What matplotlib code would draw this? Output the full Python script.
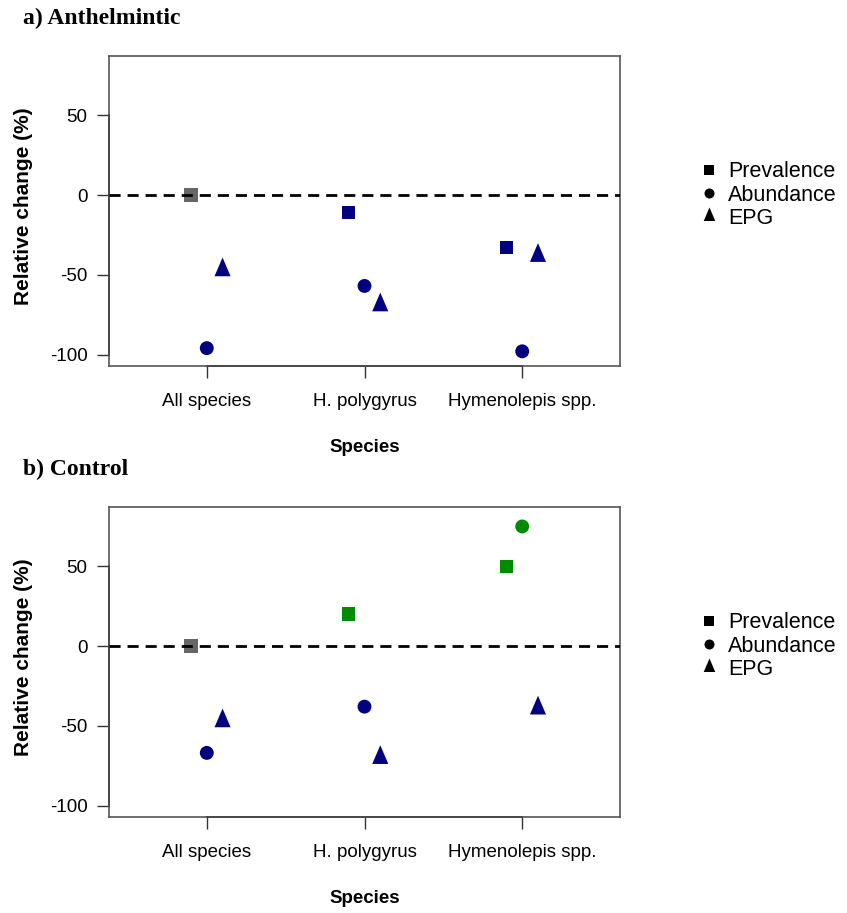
import numpy as np
import matplotlib
matplotlib.use('Agg')
import matplotlib.pyplot as plt
from matplotlib.lines import Line2D

plt.rcParams['font.family'] = ['Liberation Sans', 'DejaVu Sans']
plt.rcParams['axes.unicode_minus'] = False

categories = ['All species', 'H. polygyrus', 'Hymenolepis spp.']
series = ['Prevalence', 'Abundance', 'EPG']

# a) Anthelmintic
anth_prev = [0, -11, -33]
anth_abund = [-96, -57, -98]
anth_epg = [-47, -69, -38]

# b) Control
ctrl_prev = [0, 20, 50]
ctrl_abund = [-67, -38, 75]
ctrl_epg = [-47, -70, -39]

yticks = [-100, -50, 0, 50]

# R-style filled triangle (centred on centroid)
tri = [(0, 1.555), (-1, -0.778), (1, -0.778), (0, 1.555)]
markers = ['s', 'o', tri]
msizes = [9.6, 10, 18]
offsets = [-0.1, 0, 0.1]


def col(v):
    if v > 0:
        return '#008B00'
    if v < 0:
        return '#000080'
    return '#666666'


def panel(ax, data):
    x = np.arange(1, len(categories) + 1)
    for vals, m, ms, off in zip(data, markers, msizes, offsets):
        ax.scatter(x + off, vals, marker=m, s=ms**2, c=[col(v) for v in vals],
                   linewidths=0, zorder=2)
    ax.axhline(0, color='black', lw=2, dashes=(4, 2.5), zorder=3)
    ax.set_xlim(0.38, 3.62)
    ax.set_ylim(-107.2, 87.2)
    ax.set_xticks(x)
    ax.set_xticklabels(categories, fontsize=13.5)
    ax.set_yticks(yticks)
    ax.set_yticklabels([str(t) for t in yticks], fontsize=13.5)
    ax.tick_params(axis='x', length=8.5, width=1, pad=11, color='#333333')
    ax.tick_params(axis='y', length=8.5, width=1, pad=7, color='#333333')
    for s in ax.spines.values():
        s.set_color('#555555')
        s.set_linewidth(1.2)
    # R-style axis lines between first and last tick
    ax.plot([x[0], x[-1]], [0, 0], color='black', lw=1.3,
            transform=ax.get_xaxis_transform(), clip_on=False)
    ax.plot([0, 0], [yticks[0], yticks[-1]], color='black', lw=1.3,
            transform=ax.get_yaxis_transform(), clip_on=False)
    ax.set_ylabel('Relative change (%)', fontsize=15, fontweight='bold')
    ax.yaxis.set_label_coords(-0.149, 0.516)
    ax.set_xlabel('Species', fontsize=13.5, fontweight='bold')
    ax.xaxis.set_label_coords(0.5, -0.236)
    handles = [Line2D([], [], marker=m, linestyle='none', color='black',
                      markersize=ms * 0.72, markeredgewidth=0)
               for m, ms in zip(markers, msizes)]
    ax.legend(handles, series, loc='center left', bbox_to_anchor=(1.155, 0),
              bbox_transform=ax.get_yaxis_transform(), frameon=False,
              fontsize=15.5, handlelength=0.9, handletextpad=0.45,
              labelspacing=0.1, borderpad=0, borderaxespad=0)


fig = plt.figure(figsize=(8.47, 9.13), dpi=100)
ax1 = fig.add_axes([109/847, 1 - 366/913, 511/847, 310/913])
ax2 = fig.add_axes([109/847, 1 - 817/913, 511/847, 310/913])

panel(ax1, [anth_prev, anth_abund, anth_epg])
panel(ax2, [ctrl_prev, ctrl_abund, ctrl_epg])

fig.text(23/847, 1 - 18/913, 'a) Anthelmintic', family='Liberation Serif',
         fontweight='bold', fontsize=17, va='center', ha='left')
fig.text(23/847, 1 - 469/913, 'b) Control', family='Liberation Serif',
         fontweight='bold', fontsize=17, va='center', ha='left')

fig.savefig('out.png', dpi=100)
